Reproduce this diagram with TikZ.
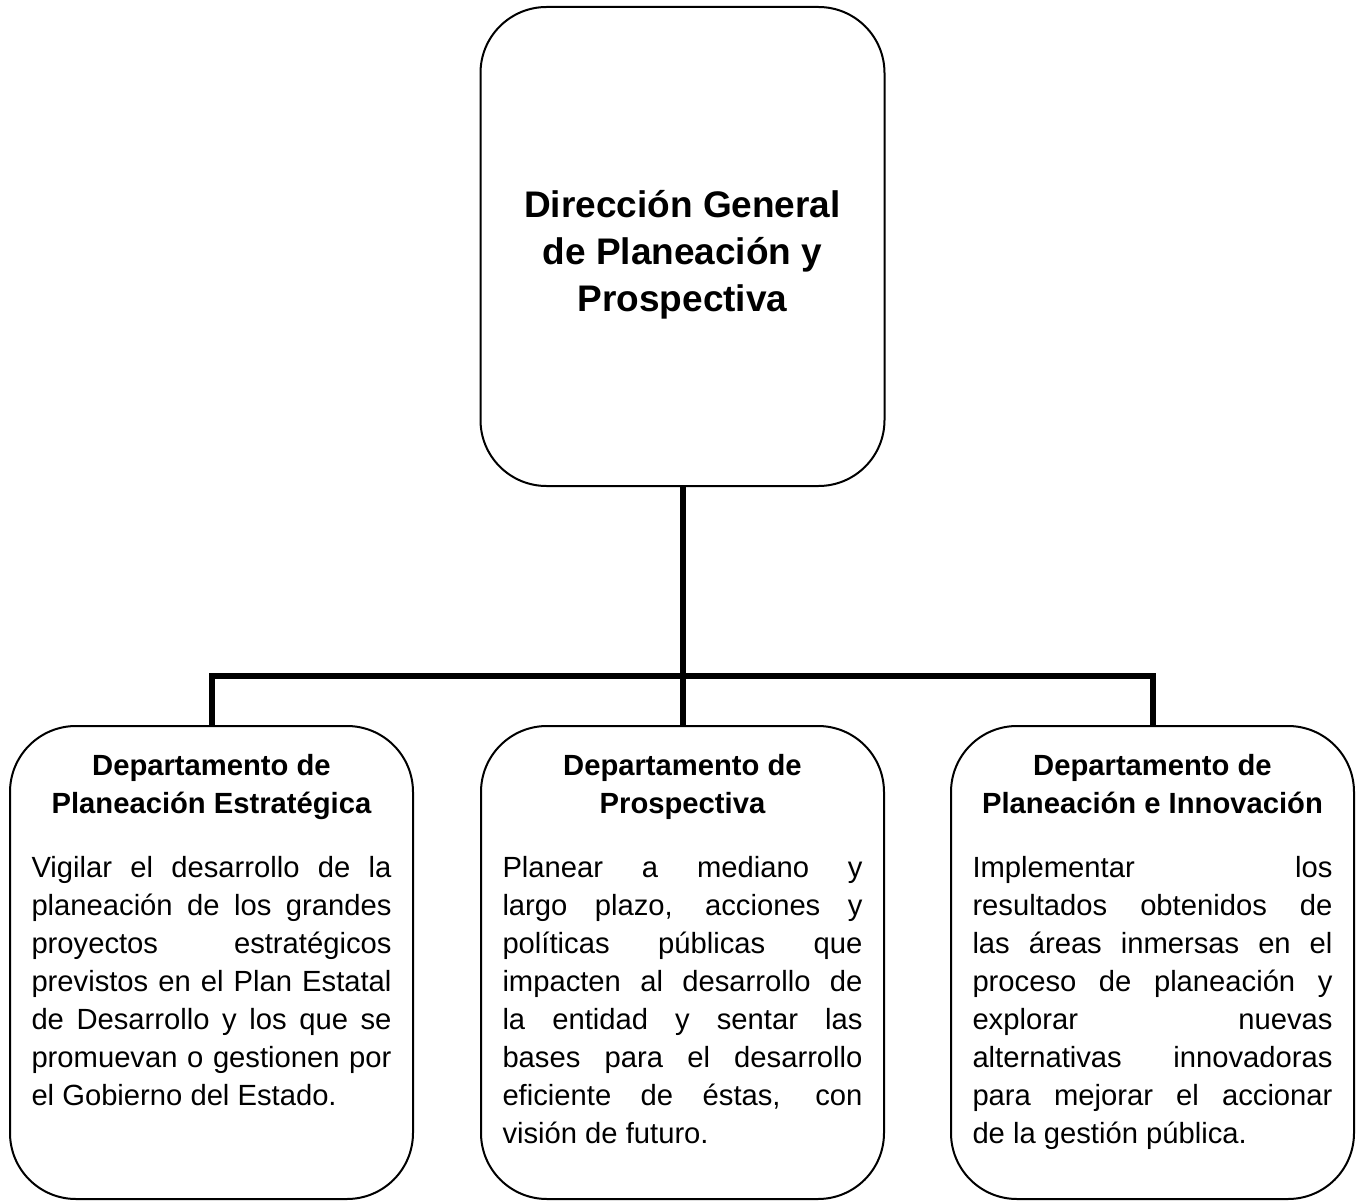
\documentclass[tikz,border=0pt]{standalone}
\usepackage{fontspec}
\setmainfont{Liberation Sans}
\usetikzlibrary{positioning}
\newcommand{\titlefont}{\fontsize{37}{47}\selectfont\bfseries}
\newcommand{\deptfont}{\fontsize{29.2}{38}\selectfont\tolerance=10000\hyphenpenalty=10000}
\tikzset{
  box/.style={draw, line width=2pt, rounded corners=66pt, minimum width=403pt, minimum height=473pt, inner sep=0pt},
  link/.style={line width=6pt},
  title/.style={font=\titlefont, align=center, inner sep=0pt},
  dept/.style={font=\deptfont, text width=360pt, align=justify, inner sep=0pt, anchor=north}
}

\begin{document}
\begin{tikzpicture}[x=1pt,y=-1pt]
  \useasboundingbox (0,0) rectangle (1361,1201);
  % top box
  \node[box, minimum width=404pt, minimum height=479pt] (dg) at (682.5,246.5) {};
  \node[title] (dg-text) at (682.5,255) {Dirección General\\de Planeación y\\Prospectiva};
  % departments
  \node[box] (pe) at (211.5,962.5) {};
  \node[box] (pr) at (682.5,962.5) {};
  \node[box] (pi) at (1152.5,962.5) {};
  \node[dept] (pe-text) at (211.5,754) {{\centering\bfseries Departamento de\\Planeación Estratégica\par}
    \vspace{26pt}
    Vigilar el desarrollo de la\linebreak planeación de los grandes\linebreak proyectos estratégicos\linebreak previstos en el Plan Estatal\linebreak de Desarrollo y los que se\linebreak promuevan o gestionen por\linebreak el Gobierno del Estado.};
  \node[dept] (pr-text) at (682.5,754) {{\centering\bfseries Departamento de\\Prospectiva\par}
    \vspace{26pt}
    Planear a mediano y\linebreak largo plazo, acciones y\linebreak políticas públicas que\linebreak impacten al desarrollo de\linebreak la entidad y sentar las\linebreak bases para el desarrollo\linebreak eficiente de éstas, con\linebreak visión de futuro.};
  \node[dept] (pi-text) at (1152.5,754) {{\centering\bfseries Departamento de\\Planeación e Innovación\par}
    \vspace{26pt}
    Implementar los\linebreak resultados obtenidos de\linebreak las áreas inmersas en el\linebreak proceso de planeación y\linebreak explorar nuevas\linebreak alternativas innovadoras\linebreak para mejorar el accionar\linebreak de la gestión pública.};
  % connectors
  \coordinate (fork) at (682.5,676);
  \draw[link] (dg.south) -- (pr.north);
  \draw[link] (pe.north) |- (fork) -| (pi.north);
\end{tikzpicture}
\end{document}
